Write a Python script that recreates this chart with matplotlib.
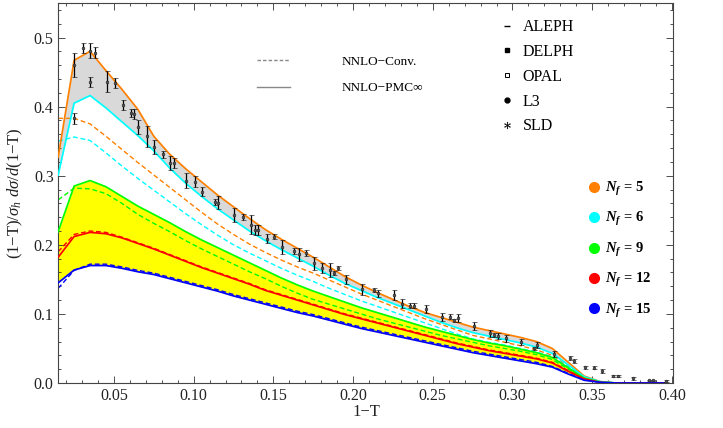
import matplotlib
matplotlib.use("Agg")
import matplotlib.pyplot as plt
from matplotlib.lines import Line2D
from matplotlib.ticker import MultipleLocator, FormatStrFormatter

plt.rcParams['font.family'] = ['Liberation Serif', 'DejaVu Serif']
plt.rcParams['mathtext.fontset'] = 'custom'
plt.rcParams['mathtext.rm'] = 'Liberation Serif'
plt.rcParams['mathtext.it'] = 'Liberation Serif:italic'
plt.rcParams['mathtext.bf'] = 'Liberation Serif:bold:italic'

# ---------------- data ----------------
x_bins = [0.015, 0.025, 0.035, 0.045, 0.055, 0.065, 0.075, 0.085, 0.095, 0.105,
          0.115, 0.125, 0.135, 0.145, 0.155, 0.165, 0.175, 0.185, 0.195, 0.205,
          0.215, 0.225, 0.235, 0.245, 0.255, 0.265, 0.275, 0.285, 0.295, 0.305,
          0.315, 0.325, 0.335, 0.345, 0.355, 0.365, 0.375, 0.385, 0.395]

nf5_pmc = [0.327, 0.467, 0.480, 0.452, 0.425, 0.396, 0.357, 0.331, 0.310, 0.291,
           0.272, 0.255, 0.238, 0.222, 0.208, 0.195, 0.182, 0.168, 0.154, 0.142,
           0.131, 0.121, 0.111, 0.102, 0.095, 0.088, 0.081, 0.076, 0.071, 0.066,
           0.060, 0.050, 0.030, 0.010, 0.002, 0.0, 0.0, 0.0, 0.0]
nf6_pmc = [0.301, 0.405, 0.416, 0.398, 0.378, 0.358, 0.336, 0.311, 0.289, 0.270,
           0.252, 0.236, 0.220, 0.206, 0.193, 0.181, 0.169, 0.156, 0.144, 0.134,
           0.124, 0.115, 0.106, 0.097, 0.088, 0.080, 0.073, 0.068, 0.063, 0.058,
           0.052, 0.043, 0.026, 0.009, 0.002, 0.0, 0.0, 0.0, 0.0]
nf9_pmc = [0.219, 0.285, 0.293, 0.284, 0.270, 0.256, 0.244, 0.232, 0.219, 0.207,
           0.196, 0.185, 0.174, 0.163, 0.152, 0.142, 0.133, 0.125, 0.117, 0.109,
           0.102, 0.095, 0.088, 0.081, 0.075, 0.069, 0.063, 0.058, 0.054, 0.049,
           0.044, 0.037, 0.022, 0.007, 0.0015, 0.0, 0.0, 0.0, 0.0]
nf12_pmc = [0.182, 0.212, 0.218, 0.216, 0.210, 0.202, 0.194, 0.185, 0.176, 0.167,
            0.159, 0.151, 0.143, 0.134, 0.127, 0.120, 0.113, 0.106, 0.099, 0.093,
            0.087, 0.081, 0.075, 0.069, 0.063, 0.057, 0.052, 0.047, 0.043, 0.039,
            0.035, 0.029, 0.017, 0.006, 0.001, 0.0, 0.0, 0.0, 0.0]
nf15_pmc = [0.145, 0.1635, 0.170, 0.170, 0.166, 0.161, 0.157, 0.151, 0.145, 0.139,
            0.133, 0.126, 0.120, 0.114, 0.108, 0.102, 0.097, 0.091, 0.085, 0.079,
            0.074, 0.069, 0.064, 0.059, 0.054, 0.049, 0.044, 0.040, 0.036, 0.032,
            0.028, 0.023, 0.013, 0.004, 0.001, 0.0, 0.0, 0.0, 0.0]

nf5_conv = [0.383, 0.383, 0.375, 0.357, 0.338, 0.319, 0.301, 0.283, 0.265, 0.247,
            0.230, 0.215, 0.201, 0.189, 0.178, 0.168, 0.159, 0.149, 0.139, 0.129,
            0.120, 0.111, 0.102, 0.093, 0.085, 0.077, 0.069, 0.064, 0.059, 0.054,
            0.048, 0.040, 0.024, 0.008, 0.002, 0.0, 0.0, 0.0, 0.0]
nf6_conv = [0.350, 0.356, 0.351, 0.333, 0.314, 0.296, 0.279, 0.262, 0.245, 0.229,
            0.214, 0.200, 0.188, 0.177, 0.166, 0.156, 0.147, 0.137, 0.128, 0.119,
            0.111, 0.103, 0.095, 0.087, 0.079, 0.071, 0.064, 0.059, 0.055, 0.050,
            0.045, 0.038, 0.023, 0.008, 0.002, 0.0, 0.0, 0.0, 0.0]
nf9_conv = [0.265, 0.282, 0.281, 0.274, 0.260, 0.244, 0.231, 0.219, 0.206, 0.194,
            0.183, 0.172, 0.161, 0.151, 0.140, 0.130, 0.121, 0.114, 0.107, 0.100,
            0.093, 0.087, 0.081, 0.075, 0.069, 0.064, 0.059, 0.054, 0.050, 0.046,
            0.041, 0.034, 0.020, 0.007, 0.0015, 0.0, 0.0, 0.0, 0.0]
nf12_conv = [0.190, 0.215, 0.220, 0.218, 0.211, 0.203, 0.195, 0.186, 0.177, 0.168,
             0.160, 0.152, 0.144, 0.135, 0.128, 0.121, 0.114, 0.107, 0.100, 0.094,
             0.088, 0.082, 0.076, 0.070, 0.064, 0.058, 0.053, 0.048, 0.044, 0.040,
             0.036, 0.030, 0.018, 0.006, 0.001, 0.0, 0.0, 0.0, 0.0]
nf15_conv = [0.137, 0.163, 0.172, 0.172, 0.168, 0.163, 0.159, 0.153, 0.147, 0.141,
             0.135, 0.128, 0.122, 0.116, 0.110, 0.104, 0.099, 0.093, 0.087, 0.081,
             0.076, 0.071, 0.066, 0.061, 0.056, 0.051, 0.046, 0.042, 0.038, 0.034,
             0.030, 0.024, 0.014, 0.005, 0.001, 0.0, 0.0, 0.0, 0.0]

# experimental data (ALEPH, DELPHI, OPAL, L3, SLD combined)
data_x = [0.0249, 0.0249, 0.0304, 0.0350, 0.0350, 0.0381, 0.0454, 0.0506, 0.0555, 0.0607,
          0.0627, 0.0652, 0.0705, 0.0753, 0.0805, 0.0851, 0.0876, 0.0951, 0.1008, 0.1054,
          0.1133, 0.1154, 0.1254, 0.1307, 0.1357, 0.1384, 0.1405, 0.1457, 0.1505, 0.1555,
          0.1630, 0.1660, 0.1704, 0.1754, 0.1804, 0.1854, 0.1879, 0.1906, 0.1955, 0.2055,
          0.2130, 0.2157, 0.2257, 0.2308, 0.2356, 0.2381, 0.2456, 0.2556, 0.2607, 0.2632,
          0.2657, 0.2757, 0.2857, 0.2882, 0.2909, 0.2962, 0.3056, 0.3135, 0.3154, 0.3261,
          0.3359, 0.3384, 0.3457, 0.3509, 0.3561, 0.3630, 0.3662, 0.3756, 0.3856, 0.3881,
          0.3965]
data_y = [0.460, 0.383, 0.485, 0.481, 0.436, 0.478, 0.436, 0.434, 0.402, 0.391,
          0.389, 0.370, 0.357, 0.342, 0.331, 0.318, 0.318, 0.293, 0.291, 0.277,
          0.262, 0.261, 0.243, 0.240, 0.229, 0.221, 0.221, 0.209, 0.212, 0.197,
          0.191, 0.186, 0.188, 0.173, 0.166, 0.164, 0.159, 0.166, 0.150, 0.136,
          0.135, 0.130, 0.127, 0.115, 0.112, 0.112, 0.107, 0.096, 0.096, 0.091,
          0.094, 0.082, 0.072, 0.069, 0.068, 0.065, 0.059, 0.050, 0.055, 0.042,
          0.036, 0.032, 0.023, 0.022, 0.017, 0.010, 0.010, 0.007, 0.004, 0.004,
          0.003]
data_err = [0.017, 0.008, 0.007, 0.011, 0.007, 0.008, 0.015, 0.007, 0.007, 0.006,
            0.007, 0.010, 0.015, 0.010, 0.005, 0.010, 0.007, 0.011, 0.008, 0.007,
            0.005, 0.009, 0.010, 0.004, 0.014, 0.007, 0.007, 0.007, 0.004, 0.010,
            0.004, 0.009, 0.004, 0.009, 0.007, 0.010, 0.003, 0.003, 0.007, 0.008,
            0.003, 0.005, 0.007, 0.007, 0.004, 0.004, 0.006, 0.006, 0.004, 0.002,
            0.006, 0.006, 0.005, 0.003, 0.005, 0.005, 0.004, 0.002, 0.005, 0.004,
            0.003, 0.003, 0.002, 0.002, 0.003, 0.001, 0.001, 0.002, 0.001, 0.001,
            0.001]

nf_labels = ['5', '6', '9', '12', '15']
nf_colors = ['#ff8000', '#00ffff', '#00ff00', '#ff0000', '#0000ff']
exp_labels = ['ALEPH', 'DELPH', 'OPAL', 'L3', 'SLD']

# ---------------- figure ----------------
fig = plt.figure(figsize=(7.23, 4.28), dpi=100)
ax = fig.add_axes([0.0809, 0.1051, 0.8506, 0.888])

ax.fill_between(x_bins, nf6_pmc, nf5_pmc, color='#d9d9d9', lw=0, zorder=1)
ax.fill_between(x_bins, nf15_pmc, nf9_pmc, color='#ffff00', lw=0, zorder=1)

conv = [nf5_conv, nf6_conv, nf9_conv, nf12_conv, nf15_conv]
pmc = [nf5_pmc, nf6_pmc, nf9_pmc, nf12_pmc, nf15_pmc]
for ys, c in zip(conv, nf_colors):
    ax.plot(x_bins, ys, color=c, lw=1.0, ls=(0, (3.5, 2.0)), zorder=2)
for ys, c in zip(pmc, nf_colors):
    ax.plot(x_bins, ys, color=c, lw=1.25, zorder=3)

ax.errorbar(data_x, data_y, yerr=data_err, fmt='o', ms=2.0, color='#222222',
            mfc='#555555', mec='#222222', mew=0.4, ecolor='black',
            elinewidth=0.9, capsize=1.8, capthick=0.9, zorder=5)

ax.set_xlim(0.0152, 0.401)
ax.set_ylim(0.0, 0.55)
ax.xaxis.set_major_locator(MultipleLocator(0.05))
ax.xaxis.set_minor_locator(MultipleLocator(0.01))
ax.yaxis.set_major_locator(MultipleLocator(0.1))
ax.yaxis.set_minor_locator(MultipleLocator(0.02))
ax.xaxis.set_major_formatter(FormatStrFormatter('%.2f'))
ax.yaxis.set_major_formatter(FormatStrFormatter('%.1f'))
ax.tick_params(which='both', direction='in', top=True, right=True,
               width=0.6, colors='#333333', labelcolor='#222222', labelsize=11.5)
ax.tick_params(which='major', length=5)
ax.tick_params(which='minor', length=2.5)
for s in ax.spines.values():
    s.set_linewidth(0.8)
    s.set_color('#444444')

ax.set_xlabel('1\u2212T', fontsize=12, labelpad=0, color='#222222')
ax.set_ylabel('(1\u2212T)/$\\sigma_h$ $d\\sigma/d$(1\u2212T)', fontsize=12,
              labelpad=6, color='#222222')

# legend: line styles
h1 = [Line2D([], [], color='#888888', ls=(0, (2.5, 1.5)), lw=1.0),
      Line2D([], [], color='#888888', lw=1.0)]
leg1 = ax.legend(h1, ['NNLO\u2212Conv.', 'NNLO\u2212PMC\u221e'], loc='upper left',
                 bbox_to_anchor=(0.3228, 0.862), frameon=False, fontsize=9.5,
                 handlelength=2.5, handletextpad=3.9, labelspacing=1.1,
                 borderpad=0, borderaxespad=0)
ax.add_artist(leg1)

# legend: experiments
h2 = [Line2D([], [], ls='none', marker='_', ms=5, mew=1.0, color='black'),
      Line2D([], [], ls='none', marker='s', ms=3.5, color='black'),
      Line2D([], [], ls='none', marker='s', ms=3.5, mfc='white', mec='black', mew=0.7),
      Line2D([], [], ls='none', marker='o', ms=3.5, color='black'),
      Line2D([], [], ls='none', marker='$\\ast$', ms=5, mew=0.2, color='black')]
leg2 = ax.legend(h2, exp_labels, loc='upper left', bbox_to_anchor=(0.716, 0.957),
                 frameon=False, fontsize=11.5, handlelength=1.0, handletextpad=0.5,
                 labelspacing=0.55, borderpad=0, borderaxespad=0)
ax.add_artist(leg2)

# legend: N_f
h3 = [Line2D([], [], ls='none', marker='o', ms=7, color=c) for c in nf_colors]
leg3 = ax.legend(h3, ['$\\mathbf{N_f}$ = ' + n for n in nf_labels], loc='upper left',
                 bbox_to_anchor=(0.861, 0.534), frameon=False,
                 prop={'size': 10.5, 'weight': 'bold'}, handlelength=0.8,
                 handletextpad=0.4, labelspacing=0.85, borderpad=0, borderaxespad=0)

fig.savefig('out.png', dpi=100)
